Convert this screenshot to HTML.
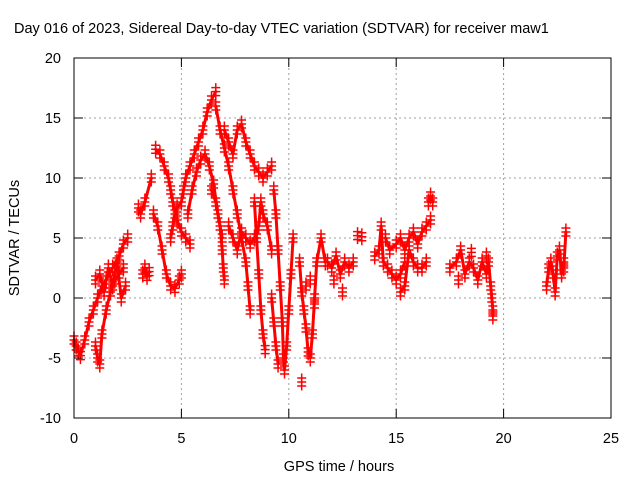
<!DOCTYPE html>
<html><head><meta charset="utf-8"><style>
body{margin:0;background:#fff}
svg{display:block;font-family:"Liberation Sans",sans-serif}
</style></head><body>
<svg id="c" width="640" height="480">
<rect width="640" height="480" fill="#fff"/>
<g id="grid"></g>
<g id="marks"></g>
<rect x="74" y="58" width="537" height="360" fill="none" stroke="#000" stroke-width="1"/>
<g id="ticks"></g>
<text x="14" y="33" font-size="14.5">Day 016 of 2023, Sidereal Day-to-day VTEC variation (SDTVAR) for receiver maw1</text>
<text x="339" y="471" font-size="14.5" text-anchor="middle">GPS time / hours</text>
<text transform="translate(19,238) rotate(-90)" font-size="14.5" text-anchor="middle">SDTVAR / TECUs</text>
</svg>
<script>
const xTicks=[0,5,10,15,20,25];
const yTicks=[-10,-5,0,5,10,15,20];
const trackA=[[0,-3.5],[0.1,-4],[0.2,-4.5],[0.3,-4.8],[0.5,-3.5],[0.7,-2],[0.9,-1],[1.1,0],[1.3,1],[1.5,1.5],[1.8,2.5],[2.1,3.5],[2.3,4.5],[2.5,5]];
const trackB=[[1.0,-4],[1.1,-5],[1.2,-5.5],[1.3,-3],[1.5,-1],[1.7,0.5],[1.9,1.5],[2.1,2],[2.3,2.5]];
const trackC=[[1.0,1.5],[1.2,2],[1.4,0.5],[1.6,2.5],[1.8,1],[2.0,3],[2.2,0],[2.4,1]];
const trackC2=[[3.2,2],[3.3,2.5],[3.4,1.8],[3.5,2.2]];
const trackC3=[[3.0,7.5],[3.1,7],[3.3,8],[3.6,10]];
const trackD=[[3.8,12.4],[4.0,12],[4.2,11],[4.4,10],[4.5,9],[4.6,8],[4.8,6.5],[5.0,5.5],[5.2,5],[5.4,4.5]];
const trackE=[[3.7,7],[3.9,6],[4.1,4],[4.3,2],[4.5,1],[4.7,0.8],[4.9,1.5],[5.0,2]];
const trackF=[[4.5,5],[4.6,6],[4.7,7],[4.8,7.5],[5.0,8],[5.1,9],[5.2,10],[5.4,11],[5.6,12],[5.8,13],[6.0,14],[6.2,15.5],[6.4,16.5],[6.6,17.2]];
const trackG=[[5.3,7],[5.5,9],[5.7,10.5],[5.9,11.5],[6.1,12],[6.3,11],[6.5,9.5],[6.7,7],[6.9,5]];
const trackH=[[6.4,9],[6.6,8],[6.8,6],[6.9,4],[6.95,2.5],[7.0,1.5]];
const trackI=[[6.6,16],[6.8,14],[7.0,12.5],[7.2,11],[7.4,9],[7.6,7],[7.8,5],[8.0,3],[8.1,1],[8.2,-1]];
const trackJ=[[7.0,14],[7.2,13],[7.4,12],[7.6,14],[7.8,14.5],[8.0,13],[8.2,12],[8.4,11],[8.6,10.5],[8.8,10],[9.0,10.5],[9.2,11]];
const trackK=[[7.2,6],[7.4,5],[7.6,4],[7.8,5.5],[8.0,5],[8.2,4.5],[8.4,5],[8.6,6],[8.7,8],[8.8,7],[9.0,6],[9.2,4]];
const trackL=[[8.4,8],[8.5,5],[8.6,2],[8.7,-1],[8.8,-3],[8.9,-4.3]];
const trackM=[[9.3,9],[9.4,7],[9.5,4],[9.6,1],[9.7,-2],[9.75,-5],[9.8,-6],[9.9,-4],[10.0,-1],[10.1,2],[10.2,5]];
const trackN=[[9.2,0],[9.3,-2],[9.4,-4],[9.5,-5.5]];
const trackO=[[10.5,3],[10.6,0.5],[10.7,-1],[10.8,-2.5],[10.9,-4.5],[11.0,-5],[11.1,-3],[11.2,0],[11.3,3],[11.5,5],[11.7,3]];
const trackP=[[11.8,3],[12.0,2.5],[12.2,3.5],[12.4,2],[12.6,3],[12.8,2.5],[13.0,3]];
const trackQ1=[[14.0,3.5],[14.2,4],[14.3,6],[14.4,3],[14.6,2.5],[14.8,2],[15.0,1.5],[15.2,2],[15.4,3]];
const trackQ2=[[14.5,5],[14.7,4],[15.0,4.5],[15.2,5],[15.4,4],[15.6,5],[15.8,5.5],[16.0,4.5],[16.2,5.5],[16.4,6],[16.6,6.5]];
const trackQ3=[[15.2,0.5],[15.4,1],[15.6,4],[15.8,3],[16.0,2.5],[16.2,2.5],[16.4,3]];
const trackQ4=[[16.5,8],[16.6,8.5],[16.7,8]];
const trackR=[[17.5,2.5],[17.8,3],[18.0,4],[18.2,2],[18.4,3],[18.6,2.5],[18.8,1.5],[19.0,3],[19.2,2],[19.3,3],[19.4,1],[19.45,0],[19.5,-1],[19.5,-1.5]];
const trackS=[[22.0,1],[22.1,2.5],[22.2,3],[22.3,2],[22.4,0.5],[22.5,3.5],[22.6,4],[22.7,2],[22.8,3],[22.8,2.5],[22.9,5.5]];
const loose=[[10.6,-7],[10.8,1],[11.0,1.5],[11.2,-0.5],[12.1,1.5],[12.5,0.5],[13.2,5.2],[13.4,5.1],[18.5,3.8],[17.9,1.5],[19.2,3.5]];
const tracks=[trackA,trackB,trackC,trackC2,trackC3,trackD,trackE,trackF,trackG,trackH,trackI,trackJ,trackK,trackL,trackM,trackN,trackO,trackP,trackQ1,trackQ2,trackQ3,trackQ4,trackR,trackS];

const NS="http://www.w3.org/2000/svg";
const X=v=>74+v/25*537, Y=v=>418-(v+10)/30*360;
const grid=document.getElementById('grid'),ticks=document.getElementById('ticks'),marks=document.getElementById('marks');
function mk(tag,attrs,parent){const e=document.createElementNS(NS,tag);for(const k in attrs)e.setAttribute(k,attrs[k]);parent.appendChild(e);return e;}
xTicks.forEach(t=>{
  const x=X(t);
  if(t>0&&t<25){const g=mk('line',{x1:x,x2:x,y1:58,y2:418,stroke:'#a0a0a0','stroke-dasharray':'2,3'},grid);
  
  }
  mk('line',{x1:x,x2:x,y1:418,y2:409,stroke:'#000'},ticks);
  mk('line',{x1:x,x2:x,y1:58,y2:67,stroke:'#000'},ticks);
  const l=mk('text',{x:x,y:443,'font-size':14.5,'text-anchor':'middle'},ticks);l.textContent=t;
  
  
});
yTicks.forEach(t=>{
  const y=Y(t);
  if(t>-10&&t<20){const g=mk('line',{x1:74,x2:611,y1:y,y2:y,stroke:'#a0a0a0','stroke-dasharray':'2,3'},grid);
  
  }
  mk('line',{x1:74,x2:83,y1:y,y2:y,stroke:'#000'},ticks);
  mk('line',{x1:611,x2:602,y1:y,y2:y,stroke:'#000'},ticks);
  const l=mk('text',{x:61,y:y+5,'font-size':14.5,'text-anchor':'end'},ticks);l.textContent=t;
  
  
});
function cross(p,col){
  const x=X(p[0]),y=Y(p[1]);
  [-4,0,4].forEach(dy=>{
    const c=mk('path',{d:`M${x-4.5} ${y+dy}H${x+4.5}M${x} ${y+dy-4.5}V${y+dy+4.5}`,stroke:col,'stroke-width':1.5,fill:'none'},marks);
    
    
  });
}
tracks.forEach(tr=>{
  const pl=mk('polyline',{points:tr.map(p=>X(p[0])+','+Y(p[1])).join(' '),stroke:'#f00','stroke-width':3,fill:'none','stroke-linejoin':'round','stroke-linecap':'round'},marks);
  
  
  tr.forEach(p=>cross(p,'#f00'));
});
loose.forEach(p=>cross(p,'#f00'));
</script>
</body></html>
